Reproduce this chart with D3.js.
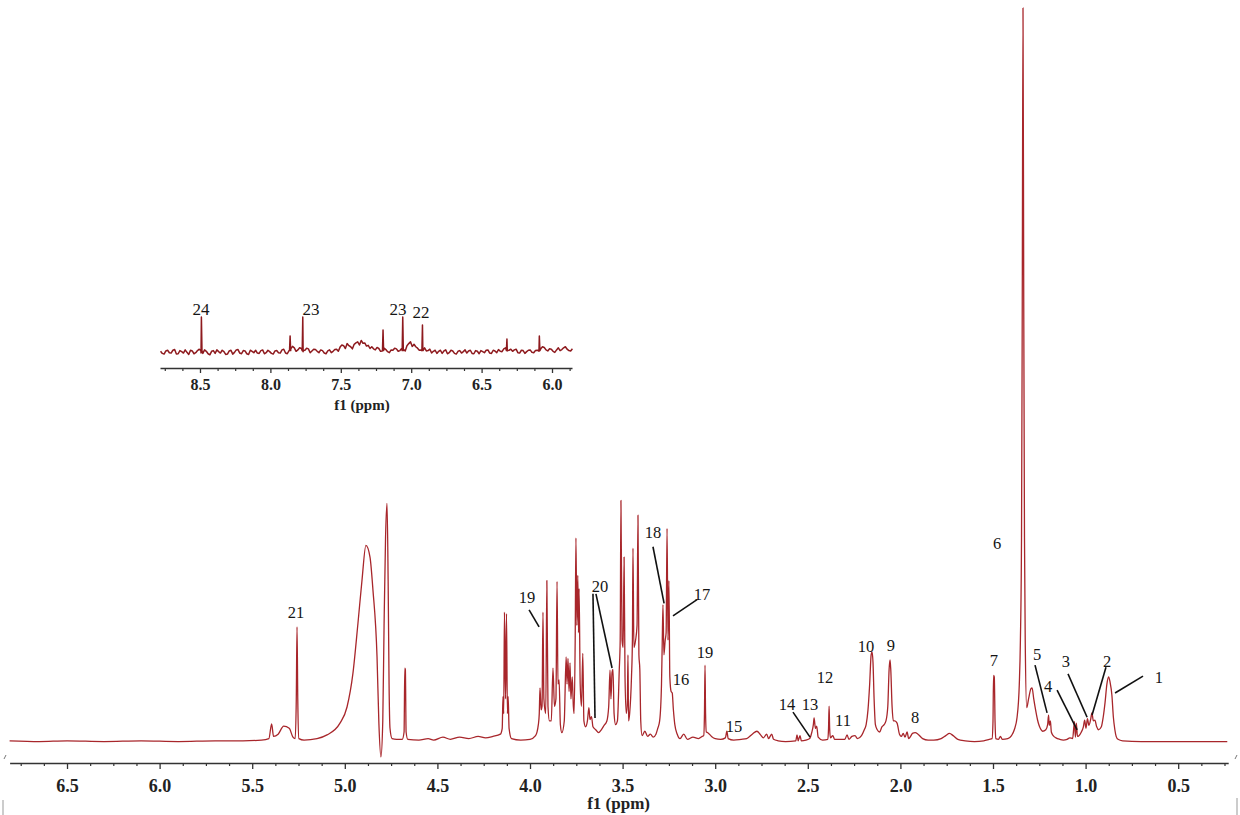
<!DOCTYPE html>
<html><head><meta charset="utf-8">
<script src="https://cdn.jsdelivr.net/npm/d3@7/dist/d3.min.js"></script>
<style>body{margin:0;background:#fff;overflow:hidden}</style>
</head><body>
<svg id="c" width="1240" height="815"></svg>
<script>
// ---------- data ----------
const mainTicks = [6.5,6.0,5.5,5.0,4.5,4.0,3.5,3.0,2.5,2.0,1.5,1.0,0.5];
const insetTicks = [8.5,8.0,7.5,7.0,6.5,6.0];
const axisTitle = "f1 (ppm)";

// main spectrum trace: [ppm, relative intensity]
const mainTrace = [
[6.81,0.3],[6.65,0.2],[6.5,0.3],[6.3,0.2],[6.1,0.3],[5.9,0.2],[5.7,0.3],[5.55,0.3],[5.45,0.4],[5.41,0.6],[5.395,2.6],[5.385,0.9],[5.36,1.2],[5.33,2.3],[5.30,2.0],[5.28,0.8],
[5.268,0.6],[5.262,6],[5.258,15.8],[5.254,6],[5.248,0.6],[5.22,0.4],[5.15,0.6],[5.096,1.1],[5.026,2.7],[4.988,4.9],[4.956,9.5],[4.929,16.3],[4.907,22.2],[4.886,26.9],[4.864,25.3],[4.848,20.8],[4.826,11.7],[4.816,2.7],[4.805,-1.9],
[4.795,3],[4.788,16],[4.780,28],[4.772,32.6],[4.766,22],[4.761,8],[4.756,2],[4.745,0.6],[4.72,0.5],[4.69,0.5],[4.680,1.5],[4.676,10.2],[4.673,10],[4.669,1.5],[4.66,0.5],
[4.6,0.4],[4.55,0.6],[4.52,0.4],[4.47,0.8],[4.43,0.5],[4.38,0.8],[4.33,0.6],[4.28,0.9],[4.24,0.7],[4.20,0.9],[4.16,1.2],[4.150,2],[4.146,6.3],[4.142,4],[4.138,17.8],[4.132,6],[4.127,17.6],[4.122,4],[4.118,6.3],[4.113,2],[4.10,0.6],
[4.05,0.4],[4.0,0.5],[3.97,1.0],[3.955,2.5],[3.950,4],[3.946,7.5],[3.940,4.5],[3.935,5],[3.930,17.8],[3.925,6],[3.915,4],[3.909,22.1],[3.903,5],[3.895,3],[3.885,3],[3.876,10.2],[3.868,5],[3.860,6],[3.854,22],[3.849,8],[3.843,8.6],[3.836,2.5],[3.828,1.4],
[3.815,3],[3.805,11.7],[3.800,8],[3.795,11.5],[3.789,7],[3.784,10.9],[3.779,6],[3.772,9],[3.766,5],[3.762,4],[3.756,14],[3.752,27.9],[3.747,16],[3.742,22.8],[3.738,15],[3.735,21],[3.729,8],[3.722,5],[3.715,12.2],[3.709,3],[3.700,2.2],
[3.690,3],[3.682,4.8],[3.676,3.2],[3.668,3.6],[3.660,2.2],[3.645,1.8],[3.630,1.4],[3.615,1.8],[3.600,2.4],[3.585,3],[3.575,5],[3.568,9.9],[3.563,6],[3.557,9.6],[3.552,10],[3.546,4],[3.538,2.5],
[3.528,3],[3.518,10],[3.513,14],[3.509,33],[3.503,14],[3.497,13],[3.492,25.3],[3.487,9],[3.480,4],[3.474,6],[3.471,12],[3.468,3],[3.462,4],[3.452,9],[3.447,14],[3.444,26.5],[3.439,13],[3.430,14],[3.422,16],[3.417,31],[3.412,12],[3.407,10],[3.402,3],[3.395,1],
[3.38,1.6],[3.365,0.9],[3.35,1.2],[3.335,0.8],[3.32,1.2],[3.31,2],[3.300,3],[3.290,8],[3.286,13.7],[3.282,18.8],[3.277,12],[3.270,14],[3.265,15],[3.260,29.2],[3.255,14],[3.250,22.1],[3.245,9],[3.238,7],[3.232,6.8],[3.226,4.6],[3.218,2.5],[3.205,1.2],
[3.19,0.6],[3.17,1.2],[3.15,0.5],[3.12,0.8],[3.09,0.6],[3.07,0.9],[3.062,1],[3.058,4],[3.055,10.6],[3.052,4],[3.048,1.5],[3.04,1.4],[3.02,0.9],[3.0,0.6],[2.97,0.5],[2.945,0.7],[2.937,1.6],[2.930,0.6],[2.90,0.4],[2.86,0.5],
[2.83,0.6],[2.80,1.2],[2.775,1.6],[2.755,1.1],[2.74,0.7],[2.722,1.2],[2.712,0.6],[2.695,1.2],[2.685,0.5],[2.66,0.3],[2.62,0.2],[2.565,0.3],[2.558,1.1],[2.552,0.3],[2.542,1.0],[2.535,0.3],[2.51,0.4],
[2.49,0.6],[2.478,1.5],[2.470,2.5],[2.466,3.4],[2.459,2.0],[2.452,2.3],[2.444,0.8],[2.42,0.4],[2.392,0.5],[2.388,2],[2.385,5.0],[2.382,2],[2.378,0.7],[2.365,1.0],[2.355,0.5],[2.30,0.5],[2.288,1.1],[2.278,0.5],[2.262,0.9],[2.245,1.0],[2.232,0.6],[2.21,1.0],[2.195,1.8],
[2.185,2.5],[2.175,4.5],[2.166,8],[2.158,12],[2.153,12.4],[2.148,11],[2.142,6],[2.135,2.5],[2.125,1.8],[2.112,1.5],[2.10,2.2],[2.088,2.5],[2.078,3.0],[2.068,5],[2.061,10],[2.056,11.3],[2.052,10],[2.045,5],[2.038,3.0],[2.03,3.0],[2.018,2.7],
[2.005,1.2],[1.995,0.9],[1.985,1.3],[1.975,0.8],[1.964,1.5],[1.955,0.6],[1.945,0.9],[1.935,1.3],[1.92,1.4],[1.905,1.2],[1.88,0.6],[1.85,0.4],[1.82,0.4],[1.78,0.6],[1.755,1.0],[1.735,1.3],[1.715,1.0],[1.69,0.5],[1.65,0.3],[1.60,0.2],[1.55,0.3],[1.52,0.5],
[1.505,0.6],[1.500,3],[1.497,9.2],[1.493,9.0],[1.489,3],[1.485,0.6],[1.47,0.5],[1.46,0.9],[1.45,0.5],[1.42,0.6],[1.40,1.0],[1.385,1.8],[1.37,3.5],[1.358,8],
[1.352,14],[1.346,28],[1.342,60],[1.338,100],[1.334,60],[1.330,28],[1.326,14],[1.318,4.8],[1.308,6],[1.295,7.4],[1.289,7.5],[1.280,6],[1.27,4.5],[1.26,3.2],[1.25,2.3],[1.24,1.8],[1.232,1.6],
[1.215,1.8],[1.205,2.5],[1.200,3.8],[1.196,2.4],[1.190,3.0],[1.185,1.5],[1.175,1.0],[1.16,0.7],[1.14,0.5],[1.12,0.4],[1.10,0.5],[1.085,0.7],[1.070,0.6],[1.060,2.9],[1.055,0.8],[1.050,2.7],[1.044,0.9],[1.036,1.0],[1.025,1.4],
[1.012,2.2],[1.005,3.1],[0.998,2.0],[0.990,3.3],[0.982,2.4],[0.972,3.3],[0.966,4.1],[0.958,3.0],[0.950,3.1],[0.940,2.2],[0.930,1.8],[0.915,2.2],[0.905,3.5],[0.895,5.5],[0.885,8],[0.876,9.0],[0.868,8.3],[0.858,6.5],[0.850,3.5],[0.842,1.8],[0.835,0.9],[0.825,0.5],
[0.80,0.3],[0.70,0.2],[0.50,0.2],[0.30,0.2],[0.235,0.2]
];

// inset (aromatic region) baseline readings, evenly spaced from 8.78 to 5.855 ppm
const insetStart = 8.78, insetEnd = 5.855;
const insetNoise = [
0.2,-0.6,0.5,-0.3,0.7,-0.5,0.1,0.6,-0.7,0.3,
-0.2,0.8,-0.4,0.2,-0.8,0.4,0.6,-0.3,0.1,-0.6,
0.5,-0.1,0.7,-0.5,0.3,-0.7,0.2,0.5,-0.4,0.6,
-0.2,0.1,-0.6,0.4,-0.3,0.8,-0.5,0.9,1.2,0.6,
1.0,0.5,0.9,0.3,0.7,-0.2,0.4,-0.5,0.6,0.2,
0.8,1.4,1.8,2.4,1.5,2.2,2.9,3.3,2.6,1.9,
1.5,0.6,1.0,0.3,0.7,-0.2,0.5,0.9,0.4,0.8,
1.8,2.9,2.2,1.1,0.6,1.2,0.4,-0.3,0.5,0.2,
-0.4,0.6,-0.2,0.3,-0.6,0.4,0.1,-0.3,0.5,-0.5,
0.2,0.4,-0.2,0.6,-0.4,0.3,0.7,0.1,1.2,0.5,
0.2,0.8,-0.3,0.4,0.1,0.6,-0.2,0.5,0.9,1.3,
0.3,0.8,-0.1,1.2,0.7,1.5,0.4,0.9
];
// readings half-way between the ones above
const insetNoiseMid = [
-0.4,0.3,-0.2,0.5,-0.6,0.4,-0.3,-0.1,0.5,-0.5,
0.4,-0.3,0.6,-0.5,0.2,-0.4,0.1,0.5,-0.7,0.3,
-0.6,0.6,-0.3,0.4,-0.5,0.5,-0.2,-0.3,0.4,-0.5,
0.5,-0.4,0.3,-0.2,0.6,-0.3,0.4,1.6,0.2,1.2,
0.1,1.1,-0.2,0.8,0.2,0.6,-0.3,0.3,-0.2,0.7,
0.2,2.0,1.0,1.8,0.9,2.6,2.0,2.5,1.7,1.0,
0.9,1.3,0.2,1.1,0.1,0.6,1.1,0.2,1.0,0.3,
2.4,1.6,1.5,0.5,1.1,0.3,0.8,0.2,-0.4,0.5,
0.3,-0.5,0.5,-0.4,0.2,-0.3,0.6,0.3,-0.4,0.4,
-0.5,0.1,0.5,-0.3,0.5,-0.2,0.2,0.9,0.3,0.8,
0.6,-0.2,0.5,-0.4,0.5,-0.1,0.4,0.2,1.5,0.6,
0.9,0.2,0.6,0.4,1.2,0.8,0.3
];
// inset sharp lines: [ppm, height]
const insetPeaks = [[8.49,10],[7.86,4.6],[7.77,10],[7.20,6.3],[7.06,10],[6.92,7.7],[6.32,3.7],[6.09,4.6]];

// peak labels: [text, ppm, intensity]
const mainLabels = [
["21",5.263,17.0],["19",4.016,19.05],["20",3.622,20.5],["18",3.336,27.9],["17",3.071,19.5],["16",3.185,7.9],["19",3.055,11.6],
["15",2.898,1.5],["14",2.612,4.5],["13",2.488,4.5],["12",2.407,8.2],["11",2.310,2.3],["10",2.186,12.4],["9",2.051,12.5],["8",1.921,2.7],
["7",1.495,10.5],["6",1.478,26.4],["5",1.262,11.3],["4",1.203,6.9],["3",1.106,10.3],["2",0.884,10.3],["1",0.604,8.2]
];
// leader lines: [ppm1, int1, ppm2, int2]
const mainLeaders = [
[4.005,18.1,3.951,15.8],[3.660,20.3,3.649,3.4],[3.644,20.3,3.557,10.2],[3.336,26.7,3.276,19.0],[3.098,19.5,3.228,17.3],
[2.580,4.2,2.488,0.8],[1.273,10.6,1.208,4.1],[1.154,7.2,1.046,1.8],[1.095,9.4,0.992,3.5],[0.890,10.3,0.965,3.8],[0.690,9.1,0.841,6.8]
];
const insetLabels = [["24",8.493,10.6],["23",7.712,10.6],["23",7.094,10.6],["22",6.930,9.7]];

// ---------- drawing ----------
const svg = d3.select("#c");
const serif = "'Liberation Serif','Times New Roman',serif";
const traceColor = "#a8262b";

const x = d3.scaleLinear().domain([6.81, 0.23]).range([9.6, 1228.2]);
const y = d3.scaleLinear().domain([0, 100]).range([743, 8]);

const line = d3.line().x(d => x(d[0])).y(d => y(d[1])).curve(d3.curveMonotoneX);
const mainSorted = mainTrace.slice().sort((a,b)=>b[0]-a[0]);
svg.append("path").attr("d", line(mainSorted))
  .attr("fill","none").attr("stroke",traceColor).attr("stroke-width",1.3).attr("stroke-linejoin","round");

// main axis
const axisY = 763;
const gMinor = svg.append("g").attr("transform",`translate(0,${axisY})`)
  .call(d3.axisBottom(x).tickValues(d3.range(6.75,0.2,-0.125).filter(v=>Math.abs(v*2-Math.round(v*2))>1e-6)).tickSize(3).tickSizeOuter(0).tickFormat(""));
gMinor.select(".domain").attr("stroke","#333").attr("stroke-width",1.3);
gMinor.selectAll(".tick line").attr("stroke","#333").attr("stroke-width",1.2);
const gMajor = svg.append("g").attr("transform",`translate(0,${axisY})`)
  .call(d3.axisBottom(x).tickValues(mainTicks).tickSize(6).tickSizeOuter(0).tickFormat(d3.format(".1f")));
gMajor.select(".domain").remove();
gMajor.selectAll(".tick line").attr("stroke","#333").attr("stroke-width",1.3);
gMajor.selectAll(".tick text").attr("y",29).attr("dy",null)
  .attr("font-family",serif).attr("font-weight","bold").attr("font-size",18).attr("fill","#222");
svg.append("text").attr("x",x(3.5)-4).attr("y",809).attr("text-anchor","middle")
  .attr("font-family",serif).attr("font-weight","bold").attr("font-size",17).attr("fill","#222").text(axisTitle);

// labels and leaders
svg.append("g").selectAll("text").data(mainLabels).join("text")
  .attr("x",d=>x(d[1])).attr("y",d=>y(d[2])).attr("text-anchor","middle")
  .attr("font-family",serif).attr("font-size",16.5).attr("fill","#151515").text(d=>d[0]);
svg.append("g").selectAll("line").data(mainLeaders).join("line")
  .attr("x1",d=>x(d[0])).attr("y1",d=>y(d[1])).attr("x2",d=>x(d[2])).attr("y2",d=>y(d[3]))
  .attr("stroke","#111").attr("stroke-width",1.6);

// ---------- inset ----------
const xi = d3.scaleLinear().domain([8.784, 5.858]).range([160, 572]);
const yi = d3.scaleLinear().domain([0, 10]).range([352, 317]);
const stepI = (insetStart - insetEnd) / (insetNoise.length - 1);
let insetPts = insetNoise.map((v,i) => [insetStart - i*stepI, v]);
insetNoiseMid.forEach((v,i) => insetPts.push([insetStart - (i+0.5)*stepI, v]));
insetPeaks.forEach(p => { insetPts.push([p[0]+0.004, 0.4], [p[0], p[1]], [p[0]-0.004, 0.4]); });
insetPts.sort((a,b)=>b[0]-a[0]);
svg.append("path").attr("d", d3.line().x(d=>xi(d[0])).y(d=>yi(d[1]))(insetPts))
  .attr("fill","none").attr("stroke","#8e1a1e").attr("stroke-width",1.5).attr("stroke-linejoin","round");

const insetAxisY = 368;
const giMinor = svg.append("g").attr("transform",`translate(0,${insetAxisY})`)
  .call(d3.axisBottom(xi).tickValues(d3.range(8.75,5.85,-0.125).filter(v=>Math.abs(v*2-Math.round(v*2))>1e-6)).tickSize(3).tickSizeOuter(0).tickFormat(""));
giMinor.select(".domain").attr("stroke","#333").attr("stroke-width",1.3);
giMinor.selectAll(".tick line").attr("stroke","#333").attr("stroke-width",1.2);
const giMajor = svg.append("g").attr("transform",`translate(0,${insetAxisY})`)
  .call(d3.axisBottom(xi).tickValues(insetTicks).tickSize(5).tickSizeOuter(0).tickFormat(d3.format(".1f")));
giMajor.select(".domain").remove();
giMajor.selectAll(".tick line").attr("stroke","#333").attr("stroke-width",1.3);
giMajor.selectAll(".tick text").attr("y",22).attr("dy",null)
  .attr("font-family",serif).attr("font-weight","bold").attr("font-size",16).attr("fill","#222");
svg.append("text").attr("x",362).attr("y",410).attr("text-anchor","middle")
  .attr("font-family",serif).attr("font-weight","bold").attr("font-size",15).attr("fill","#222").text(axisTitle);
svg.append("g").selectAll("text").data(insetLabels).join("text")
  .attr("x",d=>xi(d[1])).attr("y",d=>yi(d[2])).attr("text-anchor","middle")
  .attr("font-family",serif).attr("font-size",17).attr("fill","#151515").text(d=>d[0]);

// small frame artifacts at the bottom corners
svg.append("line").attr("x1",3).attr("x2",3).attr("y1",800).attr("y2",815).attr("stroke","#bbb").attr("stroke-width",1.5);
svg.append("line").attr("x1",1237).attr("x2",1237).attr("y1",798).attr("y2",815).attr("stroke","#bbb").attr("stroke-width",1.5);
svg.append("line").attr("x1",4).attr("x2",6).attr("y1",759).attr("y2",755).attr("stroke","#777").attr("stroke-width",1);
svg.append("line").attr("x1",1235).attr("x2",1237).attr("y1",759).attr("y2",755).attr("stroke","#777").attr("stroke-width",1);
</script>
</body></html>
